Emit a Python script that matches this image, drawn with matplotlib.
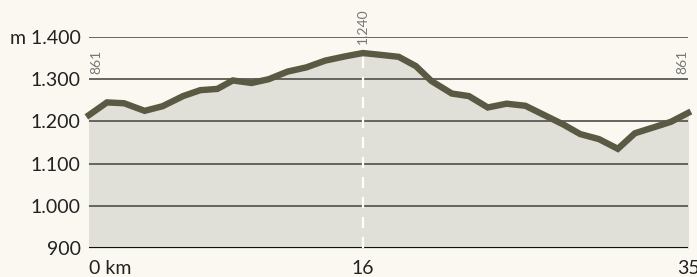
import matplotlib.pyplot as plt

# elevation profile (km, m)
km = [0, 1.05, 2.05, 3.25, 4.3, 5.5, 6.5, 7.5, 8.4, 9.5, 10.5, 11.6, 12.7, 13.8,
      14.95, 16, 17.2, 18.1, 19.1, 20.0, 21.2, 22.2, 23.3, 24.4, 25.5, 26.6,
      27.7, 28.7, 29.8, 30.9, 31.9, 33.0, 34.0, 35]
elev = [1215, 1245, 1243, 1225, 1236, 1260, 1274, 1277, 1297, 1291, 1300, 1318,
        1328, 1344, 1354, 1362, 1357, 1353, 1331, 1296, 1266, 1260, 1233, 1242,
        1237, 1215, 1193, 1170, 1158, 1135, 1172, 1186, 1199, 1220]

yticks = [900, 1000, 1100, 1200, 1300, 1400]
ylabels = ["900", "1.000", "1.100", "1.200", "1.300", "m 1.400"]
xticks = [0, 16, 35]
xlabels = ["0 km", "16", "35"]
peak_km = 16
peak_label = "1.240"
start_label = "861"
end_label = "861"

bg = "#fbf8f1"
plt.rcParams['font.family'] = ['Lato', 'DejaVu Sans']

fig = plt.figure(figsize=(6.97, 2.77), dpi=100, facecolor=bg)
ax = fig.add_axes([89/697, 29/277, 599/697, 211/277])
ax.set_facecolor(bg)

ax.fill_between(km, 900, elev, color="#e0e0d8", zorder=1)
for y in yticks[1:]:
    ax.axhline(y, color="#5a5a55", lw=1.3, zorder=2)
ax.axhline(900, color="#111111", lw=1.5, zorder=2)
ax.plot([peak_km, peak_km], [900, max(elev)], color="white", lw=1.6,
        ls=(0, (5, 4)), zorder=3)
ax.plot(km, elev, color="#5a5943", lw=4.6, solid_joinstyle="miter", zorder=4,
        clip_on=False)

ax.set_xlim(0, 35)
ax.set_ylim(900, 1400)
for s in ax.spines.values():
    s.set_visible(False)
ax.set_yticks(yticks)
ax.set_yticklabels(ylabels, fontsize=14, color="#222222")
ax.set_xticks(xticks)
ax.set_xticklabels(xlabels, fontsize=14, color="#222222")
ax.tick_params(length=0, pad=6)
ax.tick_params(axis="x", pad=9)
xt = ax.get_xticklabels()
xt[0].set_ha("left")

ax.text(0.1, 1312, start_label, rotation=90, fontsize=10, color="#777777",
        ha="left", va="bottom")
ax.text(peak_km, 1383, peak_label, rotation=90, fontsize=10, color="#777777",
        ha="center", va="bottom", clip_on=False, zorder=5)
ax.text(35.0, 1312, end_label, rotation=90, fontsize=10, color="#777777",
        ha="right", va="bottom")

fig.savefig("out.png", dpi=100, facecolor=bg)
